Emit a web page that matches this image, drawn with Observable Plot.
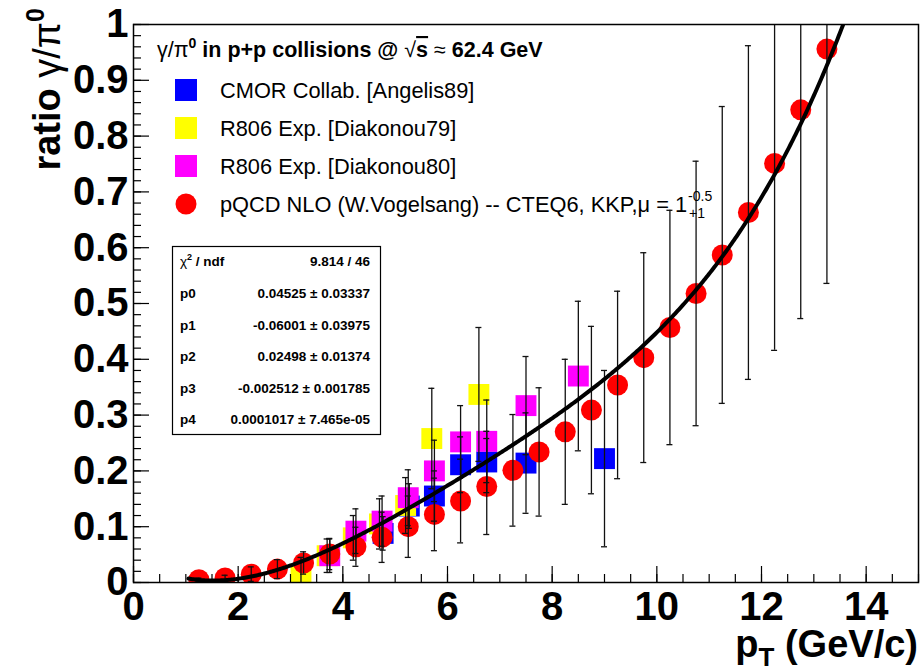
<!DOCTYPE html>
<html>
<head>
<meta charset="utf-8">
<script src="https://cdn.jsdelivr.net/npm/d3@7"></script>
<script src="https://cdn.jsdelivr.net/npm/@observablehq/plot@0.6"></script>
<style>
  html, body { margin: 0; padding: 0; background: #fff; }
  #chart { width: 922px; height: 672px; }
</style>
</head>
<body>
<div id="chart"></div>
<script>
// ---------- data ----------
// pQCD NLO (W.Vogelsang) -- red circles
const pqcdPt    = [1.25, 1.75, 2.25, 2.75, 3.25, 3.75, 4.25, 4.75, 5.25, 5.75, 6.25, 6.75, 7.25, 7.75, 8.25, 8.75, 9.25, 9.75, 10.25, 10.75, 11.25, 11.75, 12.25, 12.75, 13.25];
const pqcdRatio = [0.005, 0.008, 0.015, 0.024, 0.035, 0.051, 0.064, 0.081, 0.100, 0.122, 0.146, 0.172, 0.201, 0.234, 0.270, 0.309, 0.354, 0.403, 0.457, 0.518, 0.587, 0.663, 0.751, 0.847, 0.956];
const pqcdErr   = [0.003, 0.005, 0.013, 0.017, 0.020, 0.028, 0.035, 0.045, 0.055, 0.065, 0.075, 0.086, 0.100, 0.115, 0.130, 0.150, 0.168, 0.188, 0.210, 0.237, 0.266, 0.299, 0.335, 0.374, 0.420];

// CMOR Collab. [Angelis89] -- blue squares
const cmorPt    = [4.77, 5.27, 5.75, 6.25, 6.75, 7.5, 9.0];
const cmorRatio = [0.088, 0.137, 0.155, 0.211, 0.216, 0.214, 0.222];
const cmorErr   = [0.030, 0.040, 0.045, 0.050, 0.055, 0.090, 0.158];

// R806 Exp. [Diakonou79] -- yellow squares
const d79Pt    = [3.2, 3.7, 4.2, 4.7, 5.2, 5.7, 6.6];
const d79Ratio = [0.015, 0.048, 0.080, 0.105, 0.138, 0.258, 0.337];
const d79Err   = [0.030, 0.030, 0.040, 0.045, 0.050, 0.090, 0.120];

// R806 Exp. [Diakonou80] -- magenta squares
const d80Pt    = [3.75, 4.25, 4.75, 5.25, 5.75, 6.25, 6.75, 7.5, 8.5];
const d80Ratio = [0.048, 0.092, 0.110, 0.152, 0.200, 0.252, 0.253, 0.317, 0.370];
const d80Err   = [0.030, 0.040, 0.045, 0.050, 0.055, 0.065, 0.074, 0.088, 0.134];

// pol4 fit parameters (from stats box)
const fitParams = [0.04525, -0.06001, 0.02498, -0.002512, 0.0001017];
const fitRange  = [1.05, 13.75];

// stats box
const statsLabels = ["χ2 / ndf", "p0", "p1", "p2", "p3", "p4"];
const statsValues = ["9.814 / 46", "0.04525 ± 0.03337", "-0.06001 ± 0.03975", "0.02498 ± 0.01374", "-0.002512 ± 0.001785", "0.0001017 ± 7.465e-05"];

// legend
const legendTitle = "in p+p collisions @ ";
const legendLabels = ["CMOR Collab. [Angelis89]", "R806 Exp. [Diakonou79]", "R806 Exp. [Diakonou80]", "pQCD NLO (W.Vogelsang) -- CTEQ6, KKP,μ = 1"];
const legendColors = ["#0000ff", "#ffff00", "#ff00ff", "#ff0000"];

// axis ticks
const xMajor = [0, 2, 4, 6, 8, 10, 12, 14];
const xMinor = d3.range(0, 15.01, 0.5);
const yMajor = [0, 0.1, 0.2, 0.3, 0.4, 0.5, 0.6, 0.7, 0.8, 0.9, 1];
const yMinor = d3.range(0, 1.001, 0.02);

// ---------- build tables ----------
const toRows = (pt, v, e) => pt.map((p, i) => ({pt: p, v: v[i], lo: v[i] - e[i], hi: v[i] + e[i]}));
const pqcd = toRows(pqcdPt, pqcdRatio, pqcdErr);
const cmor = toRows(cmorPt, cmorRatio, cmorErr);
const d79  = toRows(d79Pt, d79Ratio, d79Err);
const d80  = toRows(d80Pt, d80Ratio, d80Err);
const allErr = [...cmor, ...d79, ...d80, ...pqcd];

const poly = x => fitParams.reduce((s, p, k) => s + p * Math.pow(x, k), 0);
const fitX = d3.range(fitRange[0], fitRange[1] + 1e-9, 0.025);
const fitPts = fitX.map(x => ({pt: x, v: poly(x)}));

const W = 922, H = 672, mL = 133, mR = 4, mT = 24, mB = 90;
const innerW = W - mL - mR, innerH = H - mT - mB;
const FONT = "'Liberation Sans', Arial, Helvetica, sans-serif";

const squareR = 11.8, circleR = 10.5;

const errMarks = (rows) => [
  Plot.ruleX(rows, {x: "pt", y1: "lo", y2: "hi", stroke: "#111", strokeWidth: 1.3, clip: true}),
  Plot.ruleY(rows, {y: "lo", x1: "pt", x2: "pt", insetLeft: -3, insetRight: -3, stroke: "#111", strokeWidth: 1.3, clip: true}),
  Plot.ruleY(rows, {y: "hi", x1: "pt", x2: "pt", insetLeft: -3, insetRight: -3, stroke: "#111", strokeWidth: 1.3, clip: true})
];

const chart = Plot.plot({
  width: W, height: H,
  marginLeft: mL, marginRight: mR, marginTop: mT, marginBottom: mB,
  style: {fontFamily: FONT, background: "#fff", color: "#000"},
  x: {domain: [0, 15]},
  y: {domain: [0, 1]},
  marks: [
    // data
    Plot.dot(cmor, {x: "pt", y: "v", symbol: "square", r: squareR, fill: legendColors[0], stroke: "none", clip: true}),
    Plot.dot(d79,  {x: "pt", y: "v", symbol: "square", r: squareR, fill: legendColors[1], stroke: "none", clip: true}),
    Plot.dot(d80,  {x: "pt", y: "v", symbol: "square", r: squareR, fill: legendColors[2], stroke: "none", clip: true}),
    Plot.dot(pqcd, {x: "pt", y: "v", symbol: "circle", r: circleR, fill: legendColors[3], stroke: "none", clip: true}),
    ...errMarks(allErr),
    Plot.line(fitPts, {x: "pt", y: "v", stroke: "#000", strokeWidth: 4, clip: true}),
    // ticks (inside the frame, ROOT style)
    Plot.tickX(xMinor, {x: d => d, insetTop: innerH - 8, stroke: "#000", strokeWidth: 1.2}),
    Plot.tickX(xMajor, {x: d => d, insetTop: innerH - 16, stroke: "#000", strokeWidth: 1.2}),
    Plot.tickY(yMinor, {y: d => d, insetRight: innerW - 8, stroke: "#000", strokeWidth: 1.2}),
    Plot.tickY(yMajor, {y: d => d, insetRight: innerW - 16, stroke: "#000", strokeWidth: 1.2}),
    Plot.axisX({ticks: xMajor, tickSize: 0, tickPadding: 9, fontSize: 40, fontWeight: "bold", label: null, tickFormat: d => String(d)}),
    Plot.axisY({ticks: yMajor, tickSize: 0, tickPadding: 5, fontSize: 40, fontWeight: "bold", label: null, tickFormat: d => String(+d.toFixed(1))}),
    Plot.frame({stroke: "#000", strokeWidth: 1.5})
  ]
});
document.getElementById("chart").appendChild(chart);

// ---------- annotations (axis titles, legend, stats box) ----------
const svg = d3.select(chart);

// Y axis title
const yt = svg.append("text")
  .attr("transform", "translate(60,8) rotate(-90)")
  .attr("text-anchor", "end")
  .attr("font-family", FONT).attr("font-size", 38).attr("font-weight", "bold").attr("fill", "#000");
yt.append("tspan").text("ratio ");
yt.append("tspan").attr("font-weight", "normal").text("γ/π");
yt.append("tspan").attr("font-size", 25).attr("dy", -16).text("0");

// X axis title
const xt = svg.append("text")
  .attr("x", 918).attr("y", 657)
  .attr("text-anchor", "end")
  .attr("font-family", FONT).attr("font-size", 38).attr("font-weight", "bold").attr("fill", "#000");
xt.append("tspan").text("p");
xt.append("tspan").attr("font-size", 26).attr("dy", 9).text("T");
xt.append("tspan").attr("dy", -9).text(" (GeV/c)");

// Legend
const lg = svg.append("g").attr("font-family", FONT).attr("fill", "#000").attr("text-anchor", "start");
const title = lg.append("text").attr("x", 157).attr("y", 57).attr("font-size", 21.5).attr("font-weight", "bold").attr("text-anchor", "start");
title.append("tspan").attr("font-weight", "normal").text("γ/π");
title.append("tspan").attr("font-size", 14).attr("dy", -9).text("0");
title.append("tspan").attr("dy", 9).text(" " + legendTitle);
title.append("tspan").attr("font-weight", "normal").text("√");
title.append("tspan").attr("text-decoration", "overline").text("s");
title.append("tspan").attr("font-weight", "normal").text(" ≈ ");
title.append("tspan").text("62.4 GeV");

const rowY = [98, 136, 174, 212];
legendLabels.forEach((lab, i) => {
  const cy = rowY[i] - 8;
  if (i < 3) {
    lg.append("rect").attr("x", 175).attr("y", cy - 11).attr("width", 22).attr("height", 22).attr("fill", legendColors[i]);
  } else {
    lg.append("circle").attr("cx", 186).attr("cy", cy).attr("r", circleR).attr("fill", legendColors[i]);
  }
  const t = lg.append("text").attr("x", 220).attr("y", rowY[i]).attr("font-size", 21.8).attr("text-anchor", "start");
  t.append("tspan").text(lab);
  if (i === 3) {
    const xEnd = t.node().getComputedTextLength();
    lg.append("text").attr("x", 220 + xEnd + 1).attr("y", rowY[i] - 11).attr("font-size", 14).attr("text-anchor", "start").text("-0.5");
    lg.append("text").attr("x", 220 + xEnd + 2).attr("y", rowY[i] + 6).attr("font-size", 14).attr("text-anchor", "start").text("+1");
  }
});

// Stats box
const st = svg.append("g").attr("font-family", FONT).attr("fill", "#000");
st.append("rect").attr("x", 172.5).attr("y", 246.5).attr("width", 208).attr("height", 188)
  .attr("fill", "#fff").attr("stroke", "#000").attr("stroke-width", 1.2);
const statY = [266, 298, 329.5, 361, 392.5, 424];
statsLabels.forEach((lab, i) => {
  const t = st.append("text").attr("x", 180).attr("y", statY[i]).attr("font-size", 13.5).attr("font-weight", "bold").attr("text-anchor", "start");
  if (i === 0) {
    t.append("tspan").attr("font-weight", "normal").text("χ");
    t.append("tspan").attr("font-size", 9).attr("dy", -6).text("2");
    t.append("tspan").attr("dy", 6).text(" / ndf");
  } else {
    t.text(lab);
  }
  st.append("text").attr("x", 370).attr("y", statY[i]).attr("font-size", 13.5).attr("font-weight", "bold")
    .attr("text-anchor", "end").text(statsValues[i]);
});
</script>
</body>
</html>
